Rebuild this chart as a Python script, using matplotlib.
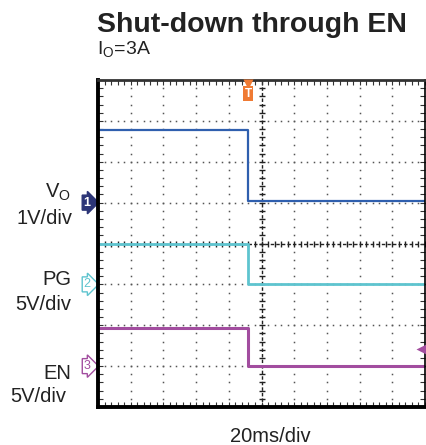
import matplotlib

matplotlib.use("Agg")
import matplotlib.pyplot as plt
import numpy as np

plt.rcParams["font.family"] = ["Liberation Sans", "DejaVu Sans"]
plt.rcParams["mathtext.fontset"] = "custom"
plt.rcParams["mathtext.rm"] = "Liberation Sans"

# Scope settings: 10 x 8 divisions, 20 ms/div, trigger near centre
TIME_PER_DIV = 20.0  # ms
N_XDIV, N_YDIV = 10, 8

# Channel 1: V_O (1 V/div, ground at division 5)
vo_t = [-100.0, -8.2, -8.2, -8.0, -8.0, 100.0]  # ms
vo_v = [1.78, 1.78, 1.05, 1.05, 0.05, 0.05]  # V
VO_SCALE, VO_REF = 1.0, 5.0

# Channel 2: PG (5 V/div, ground at division 3)
pg_t = [-100.0, -8.2, -8.2, 100.0]
pg_v = [5.0, 5.0, 0.05, 0.05]
PG_SCALE, PG_REF = 5.0, 3.0

# Channel 3: EN (5 V/div, ground at division 1)
en_t = [-100.0, -8.3, -8.3, 100.0]
en_v = [4.65, 4.65, 0.0, 0.0]
EN_SCALE, EN_REF = 5.0, 1.0

TRIG_T = -8.2  # ms
EN_LEVEL_MARK = 2.1  # V, trigger level arrow on right

C_VO = "#2f5fae"
C_PG = "#5ec4cf"
C_EN = "#a24d9f"
C_TRIG = "#ef7a33"
C_NAVY = "#2c3577"


def to_div(t):
    return np.asarray(t) / TIME_PER_DIV + N_XDIV / 2


def v_to_div(v, scale, ref):
    return np.asarray(v) / scale + ref


W, H = 426, 445
fig = plt.figure(figsize=(W / 100, H / 100), dpi=100, facecolor="white")
ax = fig.add_axes([98 / W, (H - 407) / H, 327 / W, 327 / H])
ax.set_xlim(0, N_XDIV)
ax.set_ylim(0, N_YDIV)

# dotted graticule
minor = np.arange(0, N_XDIV + 0.001, 0.2)
minor_y = np.arange(0, N_YDIV + 0.001, 0.2)
for gx in range(1, N_XDIV):
    if gx == 5:
        continue
    ax.plot(np.full_like(minor_y, gx), minor_y, ls="none", marker="s",
            ms=1.1, mec="none", mfc="#555555", zorder=1)
for gy in range(1, N_YDIV):
    if gy == 4:
        continue
    ax.plot(minor, np.full_like(minor, gy), ls="none", marker="s",
            ms=1.1, mec="none", mfc="#555555", zorder=1)

# centre crosshair
ax.axvline(5, color="#222222", lw=1.0, ls=(0, (2.5, 1.5)), zorder=1)
ax.axhline(4, color="#222222", lw=1.0, ls=(0, (2.5, 1.5)), zorder=1)
ax.plot(np.full_like(minor_y, 5), minor_y, ls="none", marker="_", ms=5,
        mew=1.0, color="#222222", zorder=1)
ax.plot(minor, np.full_like(minor, 4), ls="none", marker="|", ms=5,
        mew=1.0, color="#222222", zorder=1)

# traces
ax.plot(to_div(vo_t), v_to_div(vo_v, VO_SCALE, VO_REF), color=C_VO, lw=1.6,
        zorder=3)
ax.plot(to_div(pg_t), v_to_div(pg_v, PG_SCALE, PG_REF), color=C_PG, lw=2.0,
        zorder=3)
ax.plot(to_div(en_t), v_to_div(en_v, EN_SCALE, EN_REF), color=C_EN, lw=2.2,
        zorder=3)

# frame and inward ticks
ax.set_xticks(range(0, N_XDIV + 1))
ax.set_yticks(range(0, N_YDIV + 1))
ax.set_xticks(minor, minor=True)
ax.set_yticks(minor_y, minor=True)
ax.tick_params(which="both", direction="in", top=True, right=True,
               labelbottom=False, labelleft=False, length=3.5, width=0.8,
               color="#333333")
ax.spines["left"].set_linewidth(2.8)
ax.spines["bottom"].set_linewidth(2.8)
ax.spines["top"].set_linewidth(2.0)
ax.spines["top"].set_color("#333333")
ax.spines["right"].set_linewidth(1.2)
for sp in ax.spines.values():
    sp.set_zorder(5)

# trigger marker
tx = to_div(TRIG_T)
ax.plot([tx], [N_YDIV - 0.1], marker="v", ms=7, color=C_TRIG, mec="none",
        clip_on=False, zorder=6)
ax.text(tx, N_YDIV - 0.34, "T", color="white", fontsize=8.5, ha="center",
        va="center", fontweight="bold", zorder=6,
        bbox=dict(boxstyle="square,pad=0.12", facecolor=C_TRIG,
                  edgecolor="none"))

# trigger level arrow on right edge
ax.plot([N_XDIV - 0.1], [v_to_div(EN_LEVEL_MARK, EN_SCALE, EN_REF)],
        marker="<", ms=9, color=C_EN, mec="none", clip_on=False, zorder=6)

# channel reference markers
mk_tr = ax.get_yaxis_transform()
ax.text(-0.033, VO_REF, "1", transform=mk_tr, ha="center", va="center",
        fontsize=9, color="white", fontweight="bold", clip_on=False,
        bbox=dict(boxstyle="rarrow,pad=0.12", facecolor=C_NAVY,
                  edgecolor=C_NAVY))
ax.text(-0.033, PG_REF, "2", transform=mk_tr, ha="center", va="center",
        fontsize=9, color=C_PG, clip_on=False,
        bbox=dict(boxstyle="rarrow,pad=0.12", facecolor="white",
                  edgecolor=C_PG, lw=1.0))
ax.text(-0.033, EN_REF, "3", transform=mk_tr, ha="center", va="center",
        fontsize=9, color=C_EN, clip_on=False,
        bbox=dict(boxstyle="rarrow,pad=0.12", facecolor="white",
                  edgecolor=C_EN, lw=1.0))

# titles and labels (figure pixel coordinates)
def ftext(x, y, s, **kw):
    fig.text(x / W, 1 - y / H, s, va="baseline", color="#222222", **kw)


ftext(97, 32, "Shut-down through EN", fontsize=20.5, fontweight="bold")
ftext(97, 55, r"I$_\mathregular{O}$=3A", fontsize=14)
ftext(71, 198, r"V$_\mathregular{O}$", fontsize=14.5, ha="right")
ftext(72, 224, "1V/div", fontsize=14.5, ha="right")
ftext(71, 285, "PG", fontsize=14.5, ha="right")
ftext(71, 310, "5V/div", fontsize=14.5, ha="right")
ftext(71, 379, "EN", fontsize=14.5, ha="right")
ftext(66, 402, "5V/div", fontsize=14.5, ha="right")
ftext(270, 442, "20ms/div", fontsize=14.5, ha="center")

fig.savefig("out.png", dpi=100, facecolor="white")
